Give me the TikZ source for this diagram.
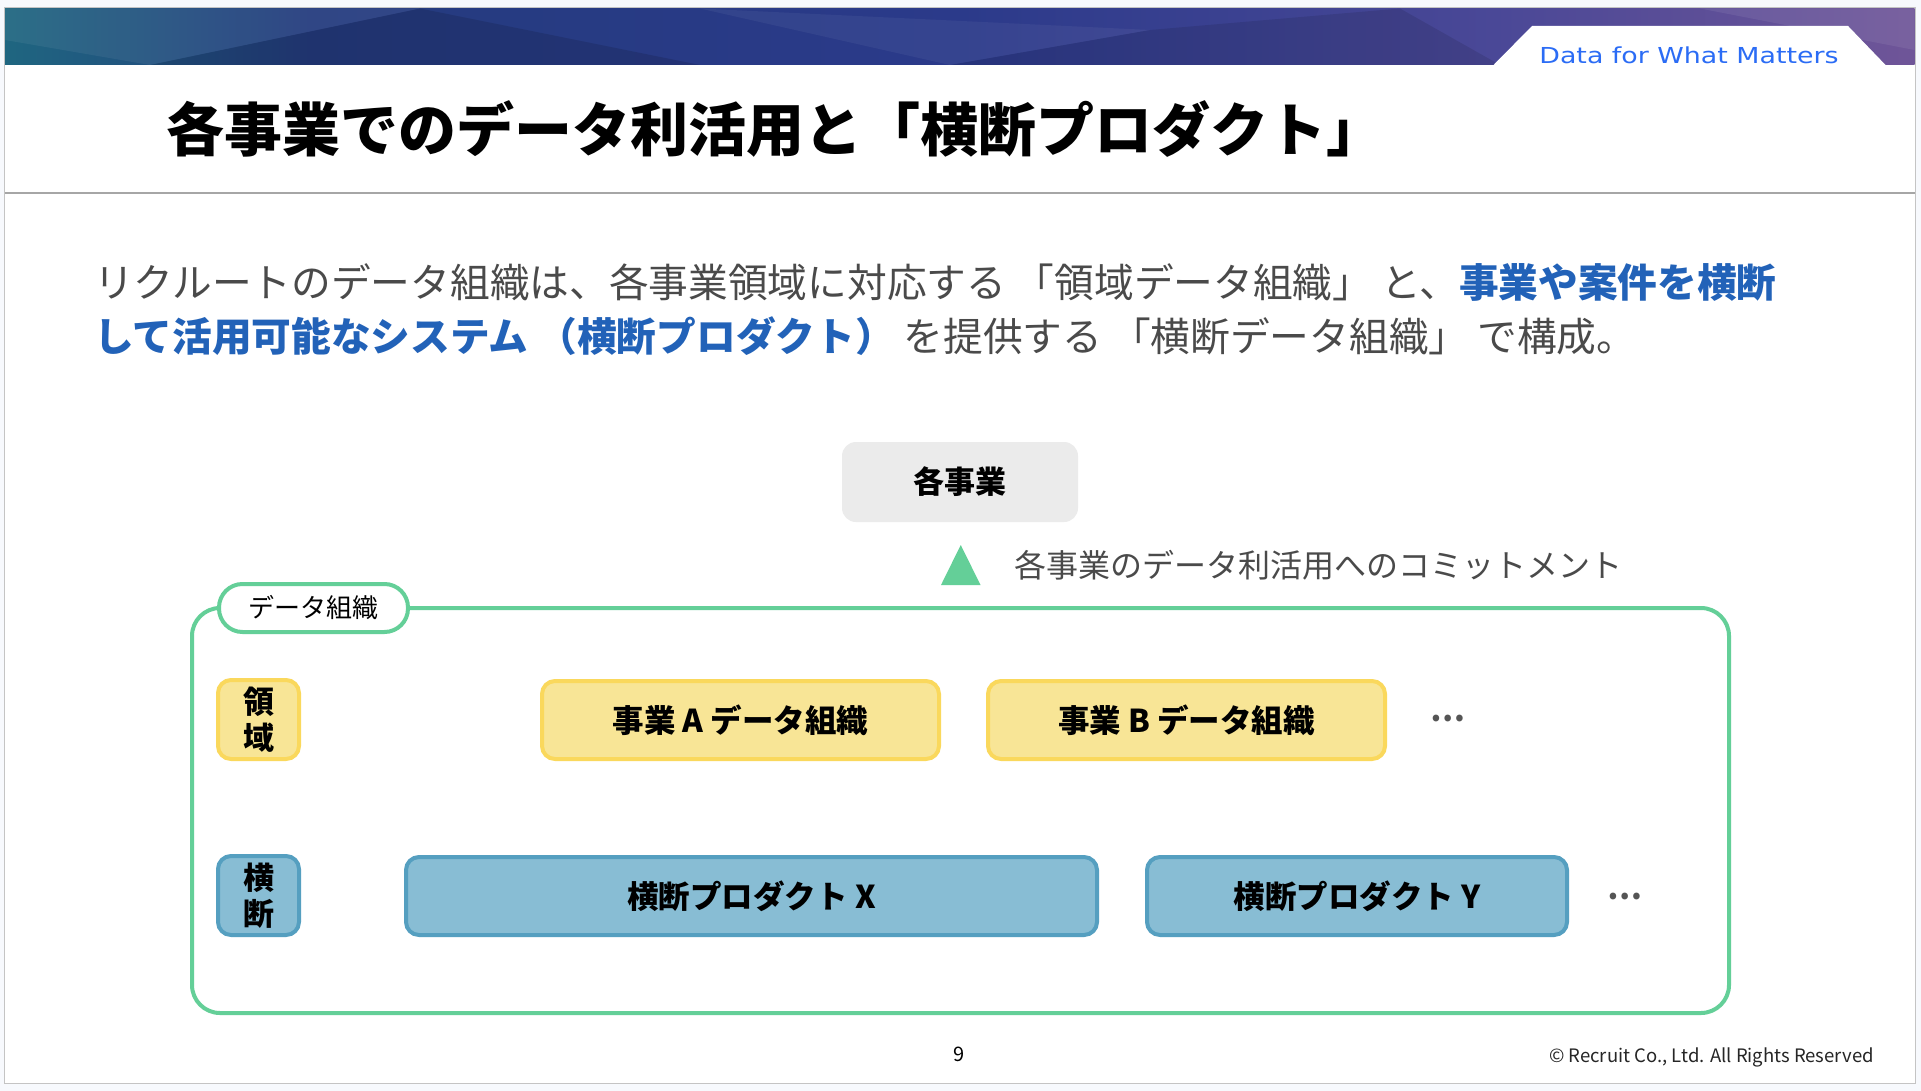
\documentclass[tikz,border=0pt]{standalone}
\usepackage{fontspec}
\setmainfont{Noto Sans CJK JP}
\newfontfamily\mottofont[FakeStretch=1.22]{DejaVu Sans}
\usetikzlibrary{positioning}
\definecolor{pagebg}{HTML}{F7F9FD}
\definecolor{bordergray}{HTML}{C4C4C4}
\definecolor{rulegray}{HTML}{A6A6A6}
\definecolor{bannerteal}{HTML}{1F6680}
\definecolor{bannernavy}{HTML}{243B7E}
\definecolor{bannerdeep}{HTML}{2B3A8A}
\definecolor{bannerviolet}{HTML}{4A4897}
\definecolor{bannerpurple}{HTML}{6F5598}
\definecolor{mottoblue}{HTML}{2B6CF5}
\definecolor{bodygray}{HTML}{4A4A4A}
\definecolor{leadblue}{HTML}{2262B8}
\definecolor{boxgray}{HTML}{EBEBEB}
\definecolor{framegreen}{HTML}{64CF98}
\definecolor{domfill}{HTML}{F8E596}
\definecolor{domline}{HTML}{FAD85C}
\definecolor{prodfill}{HTML}{88BDD4}
\definecolor{prodline}{HTML}{559FC0}
\definecolor{dotgray}{HTML}{555555}
\pgfdeclarehorizontalshading{bannershade}{100bp}{color(0bp)=(bannerteal); color(25bp)=(bannerteal); color(33bp)=(bannernavy); color(50bp)=(bannerdeep); color(64bp)=(bannerviolet); color(75bp)=(bannerpurple); color(100bp)=(bannerpurple)}
\newcommand{\pxsize}[2]{\fontsize{#1}{#2}\selectfont}

\begin{document}
\begin{tikzpicture}[x=1pt, y=-1pt, every node/.style={inner sep=0pt},
    orgbox/.style={draw=domline, fill=domfill, line width=4pt, rounded corners=13pt, minimum width=397pt, minimum height=78pt, font=\pxsize{31.5}{31.5}\bfseries},
    prodbox/.style={orgbox, draw=prodline, fill=prodfill},
    tagbox/.style={line width=4pt, rounded corners=13pt, minimum width=81pt, minimum height=79pt, align=center, font=\pxsize{31}{36}\bfseries},
    moredots/.style={text=dotgray, font=\pxsize{31}{31}\bfseries}]
    \useasboundingbox (0,0) rectangle (1921,1091);
    \fill[pagebg] (0,0) rectangle (1921,1091);
    \filldraw[fill=white, draw=bordergray, line width=1pt] (4.5,8) rectangle (1915,1083);

    %banner
    \shade[shading=bannershade] (5,8.5) rectangle (1914.5,65);
    \fill[white, opacity=0.06] (5,8.5) -- (420,8.5) -- (150,65) -- (5,40) -- cycle;
    \fill[black, opacity=0.12] (420,8.5) -- (700,65) -- (150,65) -- cycle;
    \fill[white, opacity=0.05] (700,8.5) -- (1150,30) -- (950,65) -- cycle;
    \fill[black, opacity=0.10] (1150,30) -- (1400,8.5) -- (1500,65) -- (950,65) -- cycle;
    \fill[white, opacity=0.07] (1700,8.5) -- (1914.5,8.5) -- (1914.5,50) -- cycle;
    \fill[white] (1493,65.5) -- (1532,26) -- (1848,26) -- (1886,65.5) -- cycle;
    \node[font=\mottofont\pxsize{22}{22}, text=mottoblue] (motto) at (1689,55.5) {Data for What Matters};

    \node[anchor=west, font=\pxsize{58}{62}\bfseries] (title) at (166,129) {各事業でのデータ利活用と「横断プロダクト」};
    \draw[rulegray, line width=2pt] (5,193) -- (1915,193);

    \node[anchor=west, font=\pxsize{39.7}{40}, text=bodygray] (lead1) at (94,282) {リクルートのデータ組織は、各事業領域に対応する 「領域データ組織」 と、\textcolor{leadblue}{\bfseries 事業や案件を横断}};
    \node[anchor=west, font=\pxsize{39.7}{40}, text=bodygray] (lead2) at (94,336) {\textcolor{leadblue}{\bfseries して活用可能なシステム （横断プロダクト）} を提供する 「横断データ組織」 で構成。};

    \node[fill=boxgray, rounded corners=14pt, minimum width=236pt, minimum height=80pt, font=\pxsize{31}{31}\bfseries] (jigyo) at (960,482) {各事業};
    \fill[framegreen] (941,585) -- (980.5,585) -- (960.75,545) -- cycle;
    \node[anchor=west, font=\pxsize{32}{32}, text=bodygray] (commit) at (1014,565) {各事業のデータ利活用へのコミットメント};

    %data organisation frame
    \draw[framegreen, line width=4pt, rounded corners=28pt] (192,608) rectangle (1729,1013);
    \node[draw=framegreen, fill=white, line width=4pt, rounded corners=23.5pt, minimum width=189pt, minimum height=48pt, font=\pxsize{26}{26}] (orglabel) at (313.5,608) {データ組織};

    \node[tagbox, draw=domline, fill=domfill] (tagdom) at (258.5,719.5) {領\\域};
    \node[orgbox] (orgA) at (740.5,720) {事業 A データ組織};
    \node[orgbox, right=45pt of orgA] (orgB) {事業 B データ組織};
    \node[moredots] (moreorg) at (1448,719) {…};

    \node[tagbox, draw=prodline, fill=prodfill] (tagprod) at (258.5,895.5) {横\\断};
    \node[prodbox, minimum width=691pt] (prodX) at (751.5,896) {横断プロダクト X};
    \node[prodbox, minimum width=420pt, right=46pt of prodX] (prodY) {横断プロダクト Y};
    \node[moredots] (moreprod) at (1624.5,896) {…};

    %footer
    \node[font=\pxsize{20}{20}] (pageno) at (959,1054) {9};
    \node[anchor=east, font=\pxsize{18.5}{18.5}, text=black!85] (rights) at (1874,1057) {© Recruit Co., Ltd. All Rights Reserved};
\end{tikzpicture}
\end{document}
